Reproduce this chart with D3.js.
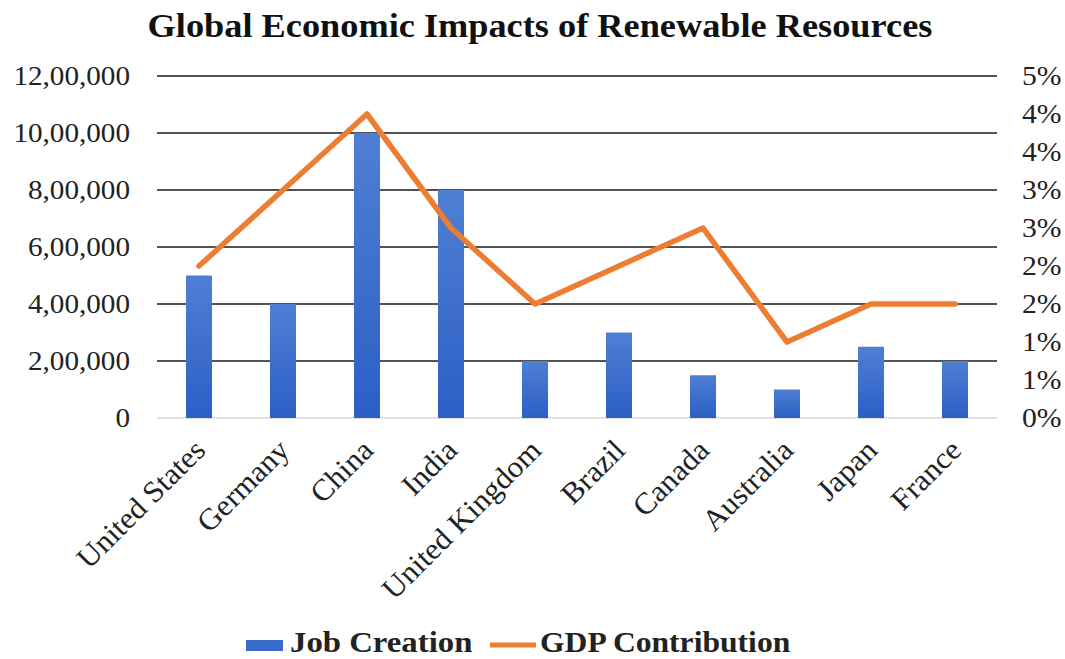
<!DOCTYPE html>
<html>
<head>
<meta charset="utf-8">
<script src="https://cdn.jsdelivr.net/npm/d3@7"></script>
<style>
  body { margin: 0; background: #fff; }
  text { font-family: "Liberation Serif", "Times New Roman", serif; fill: #222; }
</style>
</head>
<body>
<div id="wrapper"></div>
<script>
// data
const countries = ["United States", "Germany", "China", "India", "United Kingdom",
  "Brazil", "Canada", "Australia", "Japan", "France"];
const jobCreation = [500000, 400000, 1000000, 800000, 200000, 300000, 150000, 100000, 250000, 200000];
const gdpContribution = [2.0, 3.0, 4.0, 2.5, 1.5, 2.0, 2.5, 1.0, 1.5, 1.5]; // percent
const leftTicks = [0, 200000, 400000, 600000, 800000, 1000000, 1200000];
const rightTicks = [0, 0.5, 1, 1.5, 2, 2.5, 3, 3.5, 4, 4.5];

// indian style grouping: 12,00,000
function fmtIndian(v) {
  const s = String(v);
  if (s.length <= 3) return s;
  let last3 = s.slice(-3);
  let rest = s.slice(0, -3);
  rest = rest.replace(/\B(?=(\d{2})+(?!\d))/g, ",");
  return rest + "," + last3;
}

// the original text looks a bit wide, so stretch glyphs sideways
function stretch(sel, k) {
  sel.each(function () {
    const w = this.getComputedTextLength();
    d3.select(this)
      .attr("textLength", w * k)
      .attr("lengthAdjust", "spacingAndGlyphs");
  });
}

function drawChart() {
  const dimensions = {
    width: 1065,
    height: 659,
    margin: { top: 76, right: 68, bottom: 241, left: 157 },
  };
  dimensions.boundWidth = dimensions.width - dimensions.margin.left - dimensions.margin.right;
  dimensions.boundHeight = dimensions.height - dimensions.margin.top - dimensions.margin.bottom;

  const wrapper = d3.select("#wrapper")
    .append("svg")
    .attr("width", dimensions.width)
    .attr("height", dimensions.height);

  const defs = wrapper.append("defs");
  const grad = defs.append("linearGradient")
    .attr("id", "barGrad")
    .attr("x1", 0).attr("y1", 0).attr("x2", 0).attr("y2", 1);
  grad.append("stop").attr("offset", "0%").attr("stop-color", "#4f7fd4");
  grad.append("stop").attr("offset", "100%").attr("stop-color", "#2c5fc6");

  // title
  const title = wrapper.append("text")
    .attr("x", 540)
    .attr("y", 37)
    .attr("text-anchor", "middle")
    .style("font-size", "33px")
    .style("font-weight", "bold")
    .style("fill", "#111")
    .text("Global Economic Impacts of Renewable Resources");
  stretch(title, 1.1);

  const bounds = wrapper.append("g")
    .attr("transform", `translate(${dimensions.margin.left},${dimensions.margin.top})`);

  // scales
  const xScale = d3.scaleBand()
    .domain(countries)
    .range([0, dimensions.boundWidth])
    .paddingInner(0.69)
    .paddingOuter(0.345);
  const yScale = d3.scaleLinear()
    .domain([0, 1200000])
    .range([dimensions.boundHeight, 0]);
  const y2Scale = d3.scaleLinear()
    .domain([0, 4.5])
    .range([dimensions.boundHeight, 0]);

  // gridlines
  bounds.append("g")
    .selectAll("line")
    .data(leftTicks.filter(d => d > 0))
    .join("line")
    .attr("x1", 0)
    .attr("x2", dimensions.boundWidth)
    .attr("y1", d => yScale(d))
    .attr("y2", d => yScale(d))
    .attr("stroke", "#1a1a1a")
    .attr("stroke-width", 1.3);
  bounds.append("line")
    .attr("x1", 0)
    .attr("x2", dimensions.boundWidth)
    .attr("y1", yScale(0))
    .attr("y2", yScale(0))
    .attr("stroke", "#d9d9d9")
    .attr("stroke-width", 1.3);

  // bars
  bounds.append("g")
    .selectAll("rect")
    .data(countries)
    .join("rect")
    .attr("x", d => xScale(d))
    .attr("y", (d, i) => yScale(jobCreation[i]))
    .attr("width", xScale.bandwidth())
    .attr("height", (d, i) => yScale(0) - yScale(jobCreation[i]))
    .attr("fill", "url(#barGrad)");

  // line
  const lineGenerator = d3.line()
    .x((d, i) => xScale(countries[i]) + xScale.bandwidth() / 2)
    .y(d => y2Scale(d));
  bounds.append("path")
    .attr("d", lineGenerator(gdpContribution))
    .attr("fill", "none")
    .attr("stroke", "#ed7d31")
    .attr("stroke-width", 5.5)
    .attr("stroke-linejoin", "round")
    .attr("stroke-linecap", "round");

  // axes
  const yAxisGenerator = d3.axisLeft(yScale)
    .tickValues(leftTicks)
    .tickFormat(fmtIndian)
    .tickSize(0)
    .tickPadding(27);
  const yAxis = bounds.append("g").call(yAxisGenerator);
  yAxis.select(".domain").remove();
  yAxis.selectAll("text")
    .style("font-family", "'Liberation Serif', serif")
    .style("font-size", "27px")
    .attr("fill", "#222")
    .call(stretch, 1.08);

  const y2AxisGenerator = d3.axisRight(y2Scale)
    .tickValues(rightTicks)
    .tickFormat(d => Math.round(d) + "%")
    .tickSize(0)
    .tickPadding(25);
  const y2Axis = bounds.append("g")
    .attr("transform", `translate(${dimensions.boundWidth},0)`)
    .call(y2AxisGenerator);
  y2Axis.select(".domain").remove();
  y2Axis.selectAll("text")
    .style("font-family", "'Liberation Serif', serif")
    .style("font-size", "27px")
    .attr("fill", "#222")
    .call(stretch, 1.1);

  const xAxisGenerator = d3.axisBottom(xScale)
    .tickSize(0)
    .tickPadding(0);
  const xAxis = bounds.append("g")
    .attr("transform", `translate(0,${dimensions.boundHeight})`)
    .call(xAxisGenerator);
  xAxis.select(".domain").remove();
  xAxis.selectAll("text")
    .style("font-family", "'Liberation Serif', serif")
    .style("font-size", "30px")
    .attr("fill", "#222")
    .attr("text-anchor", "end")
    .attr("y", 0)
    .attr("dy", "0")
    .attr("transform", "translate(8,34) rotate(-45)")
    .call(stretch, 1.04);

  // legend
  const legend = wrapper.append("g")
    .attr("transform", "translate(246,644)");
  legend.append("rect")
    .attr("x", 0).attr("y", -4)
    .attr("width", 37).attr("height", 11)
    .attr("fill", "#3a6bcc");
  const t1 = legend.append("text")
    .attr("x", 44).attr("y", 8)
    .style("font-size", "29px")
    .style("font-weight", "bold")
    .text("Job Creation");
  stretch(t1, 1.13);
  legend.append("line")
    .attr("x1", 244).attr("x2", 290)
    .attr("y1", 1).attr("y2", 1)
    .attr("stroke", "#ed7d31")
    .attr("stroke-width", 5);
  const t2 = legend.append("text")
    .attr("x", 294).attr("y", 8)
    .style("font-size", "29px")
    .style("font-weight", "bold")
    .text("GDP Contribution");
  stretch(t2, 1.09);
}
drawChart();
</script>
</body>
</html>
